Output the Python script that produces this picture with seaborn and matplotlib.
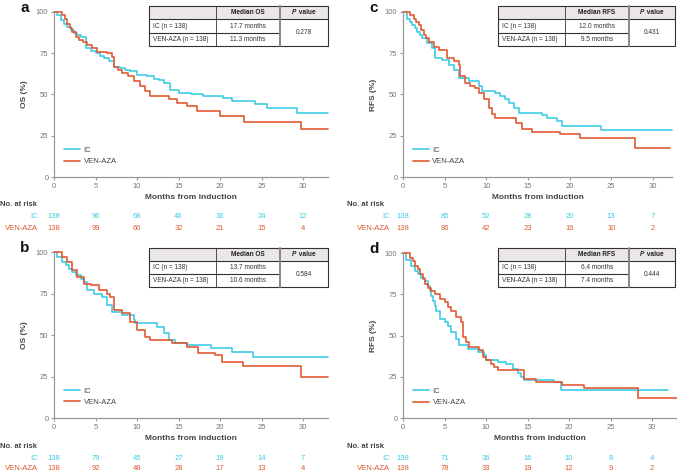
import pandas as pd
import matplotlib.pyplot as plt
from matplotlib.patches import Rectangle
from matplotlib.lines import Line2D
from matplotlib.transforms import blended_transform_factory
import seaborn as sns

sns.set_theme(style='white')
plt.rcParams['font.family'] = ['Liberation Sans', 'DejaVu Sans']

W, H = 677, 473
IC_COL = '#3fcbe3'
VEN_COL = '#e05a33'

# ---- survival curves (months, % surviving), step post
a_ic_t = [0, 0.4, 0.8, 1.2, 1.6, 2.0, 2.4, 2.8, 3.2, 3.8, 3.9, 4.4, 5.0, 5.5, 6.0, 6.6, 7.2, 8.0, 8.6, 9.2,
          10.0, 11.2, 12.0, 12.6, 13.2, 14.0, 15.0, 16.5, 17.8, 18.0, 20.4, 21.4, 24.2, 25.6, 29.3, 33.0]
a_ic_s = [100, 98, 95, 93, 91, 89, 87, 86, 85, 83, 78, 76.5, 75, 73.5, 72, 70, 66.5, 66, 65, 64,
          62, 61, 59.5, 58.5, 57, 53, 51, 50.5, 50, 49, 48, 46, 44, 42, 39, 39]
a_ven_t = [0, 1.0, 1.3, 1.6, 1.9, 2.2, 2.6, 3.0, 3.5, 4.0, 4.6, 5.2, 5.8, 6.4, 7.0, 7.2, 7.7, 8.2, 8.9, 9.6,
           10.4, 11.0, 11.6, 13.8, 14.8, 16.0, 17.2, 20.0, 22.9, 29.7, 33.0]
a_ven_s = [100, 98, 96, 93, 90, 88, 85, 83, 82, 80, 78, 76, 75.5, 75, 73, 66.5, 65, 63, 61, 58,
           55, 52, 49, 47, 45, 43, 40, 37, 33.5, 29, 29]

c_ic_t = [0, 0.5, 0.8, 1.1, 1.4, 1.7, 2.0, 2.3, 2.9, 3.5, 3.8, 4.7, 5.5, 6.1, 6.7, 7.9, 9.1, 9.5, 11.1, 11.7,
          12.2, 12.7, 13.3, 13.9, 16.7, 17.3, 18.5, 19.1, 23.8, 32.3]
c_ic_s = [100, 96, 94, 92, 90, 88, 86, 84, 81, 78, 72, 71, 68, 65, 60, 58, 55, 52, 51, 49,
          47, 45, 42, 39, 37.5, 36, 34, 31, 28.5, 28.5]
c_ven_t = [0, 0.9, 1.3, 1.6, 1.9, 2.2, 2.5, 2.8, 3.1, 3.7, 4.3, 5.3, 6.1, 6.7, 6.9, 7.5, 8.1, 8.7, 9.1, 9.7,
           10.3, 10.7, 11.1, 13.6, 14.3, 15.5, 18.9, 21.3, 27.8, 32.0]
c_ven_s = [100, 98, 96, 94, 92, 89, 86, 84, 82, 79, 77, 72, 70, 68, 61, 57, 55, 54, 51, 47,
           42, 38, 35.5, 33, 29, 27.5, 26, 23.5, 17.5, 17.5]

b_ic_t = [0, 0.4, 1.0, 1.4, 1.8, 2.2, 2.6, 3.2, 3.6, 4.0, 4.8, 5.8, 6.4, 7.0, 8.2, 9.6, 9.8, 12.4, 13.2, 13.8,
          14.6, 16.0, 18.9, 21.4, 24.0, 33.0]
b_ic_s = [100, 97, 94, 92, 90, 88, 86, 84, 82, 77, 75, 73, 68, 64, 62, 59, 57, 55, 51, 47,
          45, 44, 42, 39.5, 37, 37]
b_ven_t = [0, 1.0, 1.6, 2.2, 2.8, 3.6, 4.4, 5.4, 6.4, 6.8, 7.2, 8.2, 9.2, 10.0, 11.0, 11.6, 14.2, 16.0, 17.4, 19.4,
           20.2, 22.8, 29.7, 33.0]
b_ven_s = [100, 97, 94, 89, 85, 81, 80, 77, 75, 73, 65, 63, 58, 53, 49, 47, 45, 43, 39, 38,
           34, 31.5, 25, 25]

d_ic_t = [0, 0.4, 1.0, 1.4, 1.8, 2.2, 2.6, 3.0, 3.2, 3.4, 3.6, 3.8, 4.0, 4.4, 5.0, 5.4, 5.8, 6.4, 6.8, 7.8,
          9.0, 9.8, 10.0, 11.4, 12.4, 13.2, 13.8, 14.2, 14.6, 18.2, 19.0, 31.9]
d_ic_s = [100, 96, 92, 89, 87, 85, 83, 80, 77, 74, 71, 68, 65, 60, 58, 56, 52, 48, 44, 42,
          40, 38, 35, 34, 33, 30, 27, 25, 23, 22, 17, 17]
d_ven_t = [0, 0.8, 1.2, 1.5, 1.8, 2.1, 2.4, 2.7, 3.0, 3.4, 3.8, 4.4, 5.0, 5.4, 5.8, 6.4, 7.0, 7.2, 7.6, 8.0,
           9.2, 9.6, 10.0, 10.6, 11.0, 11.4, 14.6, 16.0, 19.2, 21.8, 28.3, 33.0]
d_ven_s = [100, 97, 95, 92, 90, 87, 84, 81, 79, 77, 75, 72, 70, 67, 65, 61, 58, 49, 46, 43,
           41, 37, 35, 33, 31, 29, 23.5, 22, 20, 18, 12, 12]

# ---- number at risk
risk_times = [0, 5, 10, 15, 20, 25, 30]
a_risk_ic = [138, 96, 68, 46, 36, 24, 12]
a_risk_ven = [138, 99, 60, 32, 21, 15, 4]
c_risk_ic = [138, 85, 52, 28, 20, 13, 7]
c_risk_ven = [138, 86, 42, 23, 16, 10, 2]
b_risk_ic = [138, 79, 45, 27, 19, 14, 7]
b_risk_ven = [138, 92, 48, 28, 17, 13, 4]
d_risk_ic = [138, 71, 36, 16, 10, 8, 4]
d_risk_ven = [138, 78, 33, 19, 12, 9, 2]

# ---- median tables
a_med = ['17.7 months', '11.3 months', '0.278']
c_med = ['12.0 months', '9.5 months', '0.431']
b_med = ['13.7 months', '10.6 months', '0.584']
d_med = ['6.4 months', '7.4 months', '0.444']


def fx(x):
    return x / W


def fy(y):
    return 1 - y / H


def draw_table(fig, cols, rows, endpoint, med):
    x0, x1, x2, x3 = [fx(c) for c in cols]
    y0, y1, y2, y3 = [fy(r) for r in rows]
    tf = fig.transFigure
    fig.add_artist(Rectangle((x0, y1), x3 - x0, y0 - y1, transform=tf,
                             facecolor='#ebe7e7', edgecolor='none'))
    fig.add_artist(Rectangle((x0, y3), x3 - x0, y0 - y3, transform=tf,
                             facecolor='none', edgecolor='#333333', lw=0.8))
    fig.add_artist(Line2D([x0, x3], [y1, y1], transform=tf, color='#333333', lw=0.8))
    fig.add_artist(Line2D([x0, x2], [y2, y2], transform=tf, color='#333333', lw=0.8))
    fig.add_artist(Line2D([x1, x1], [y0, y3], transform=tf, color='#333333', lw=0.6))
    fig.add_artist(Line2D([x2, x2], [y0, y3], transform=tf, color='#888888', lw=1.4))
    fs = 4.7
    fig.text((x1 + x2) / 2, (y0 + y1) / 2, 'Median ' + endpoint, ha='center', va='center',
             fontsize=fs, weight='bold', color='#222222')
    pc = (x2 + x3) / 2
    fig.text(pc - 0.011, (y0 + y1) / 2, 'P', ha='right', va='center', fontsize=fs,
             weight='bold', style='italic', color='#222222')
    fig.text(pc - 0.010, (y0 + y1) / 2, ' value', ha='left', va='center', fontsize=fs,
             weight='bold', color='#222222')
    fig.text(x0 + 0.006, (y1 + y2) / 2, 'IC (n = 138)', ha='left', va='center', fontsize=fs, color='#333333')
    fig.text(x0 + 0.006, (y2 + y3) / 2, 'VEN-AZA (n = 138)', ha='left', va='center', fontsize=fs, color='#333333')
    fig.text((x1 + x2) / 2, (y1 + y2) / 2, med[0], ha='center', va='center', fontsize=fs, color='#333333')
    fig.text((x1 + x2) / 2, (y2 + y3) / 2, med[1], ha='center', va='center', fontsize=fs, color='#333333')
    fig.text(pc, (y1 + y3) / 2, med[2], ha='center', va='center', fontsize=fs, color='#333333')


def panel(fig, letter, rect, xmax, endpoint, ic, ven, risk_ic, risk_ven, med, tcols, trows, risk_y, lab_x, nar_x):
    left, top, right, bottom = rect
    ax = fig.add_axes([fx(left), fy(bottom), fx(right) - fx(left), fy(top) - fy(bottom)])
    df_ic = pd.DataFrame({'t': ic[0], 's': ic[1]})
    df_ven = pd.DataFrame({'t': ven[0], 's': ven[1]})
    sns.lineplot(data=df_ic, x='t', y='s', ax=ax, color=IC_COL, lw=1.2, drawstyle='steps-post',
                 estimator=None, label='IC', clip_on=False)
    sns.lineplot(data=df_ven, x='t', y='s', ax=ax, color=VEN_COL, lw=1.2, drawstyle='steps-post',
                 estimator=None, label='VEN-AZA', clip_on=False)
    ax.set_xlim(0, xmax)
    ax.set_ylim(0, 100)
    ax.set_xticks(risk_times)
    ax.set_yticks([0, 25, 50, 75, 100])
    for s in ['top', 'right']:
        ax.spines[s].set_visible(False)
    for s in ['left', 'bottom']:
        ax.spines[s].set_color('#999999')
        ax.spines[s].set_linewidth(0.9)
    ax.tick_params(axis='both', which='both', length=2.5, width=0.8, color='#999999',
                   labelsize=5.5, labelcolor='#777777', pad=1.5, bottom=True, left=True)
    ax.set_xlabel('Months from induction', fontsize=6, weight='bold', color='#444444', labelpad=3)
    ax.set_ylabel(endpoint + ' (%)', fontsize=6, weight='bold', color='#444444')
    ax.yaxis.set_label_coords(-26 / (right - left), 0.5)
    leg = ax.legend(loc='lower left', bbox_to_anchor=(0.01, 0.03), frameon=False, fontsize=5.5,
                    handlelength=2.1, labelspacing=0.55, handletextpad=0.5)
    for t in leg.get_texts():
        t.set_color('#444444')

    # panel letter
    fig.text(fx(left - 29), fy(top - 4), letter, ha='center', va='center', fontsize=11, weight='bold', color='#111111')

    # numbers at risk
    tr = blended_transform_factory(ax.transData, fig.transFigure)
    fig.text(fx(nar_x), fy(risk_y[0]), 'No. at risk', ha='left', va='center', fontsize=5.5,
             weight='bold', color='#444444')
    fig.text(fx(lab_x), fy(risk_y[1]), 'IC', ha='right', va='center', fontsize=5.5, color=IC_COL)
    fig.text(fx(lab_x), fy(risk_y[2]), 'VEN-AZA', ha='right', va='center', fontsize=5.5, color=VEN_COL)
    for t, n1, n2 in zip(risk_times, risk_ic, risk_ven):
        ax.text(t, fy(risk_y[1]), str(n1), transform=tr, ha='center', va='center', fontsize=5.5, color=IC_COL)
        ax.text(t, fy(risk_y[2]), str(n2), transform=tr, ha='center', va='center', fontsize=5.5, color=VEN_COL)

    draw_table(fig, tcols, trows, endpoint, med)
    return ax


fig = plt.figure(figsize=(W / 100, H / 100), dpi=100)

left_cols = [149, 216, 280, 328]
right_cols = [498, 565, 629, 675]
top_rows = [6, 19, 33, 46]
bot_rows = [248, 261, 274, 287]

panel(fig, 'a', (54, 12, 328, 177), 33, 'OS', (a_ic_t, a_ic_s), (a_ven_t, a_ven_s),
      a_risk_ic, a_risk_ven, a_med, left_cols, top_rows, (204, 217, 228), 38, 0)
panel(fig, 'c', (403, 12, 672, 177), 32.3, 'RFS', (c_ic_t, c_ic_s), (c_ven_t, c_ven_s),
      c_risk_ic, c_risk_ven, c_med, right_cols, top_rows, (204, 217, 228), 390, 347)
panel(fig, 'b', (54, 252, 328, 418), 33, 'OS', (b_ic_t, b_ic_s), (b_ven_t, b_ven_s),
      b_risk_ic, b_risk_ven, b_med, left_cols, bot_rows, (446, 458, 468), 38, 0)
panel(fig, 'd', (403, 253, 677, 418), 33, 'RFS', (d_ic_t, d_ic_s), (d_ven_t, d_ven_s),
      d_risk_ic, d_risk_ven, d_med, right_cols, bot_rows, (446, 458, 468), 390, 347)

fig.savefig('out.png', dpi=100)
